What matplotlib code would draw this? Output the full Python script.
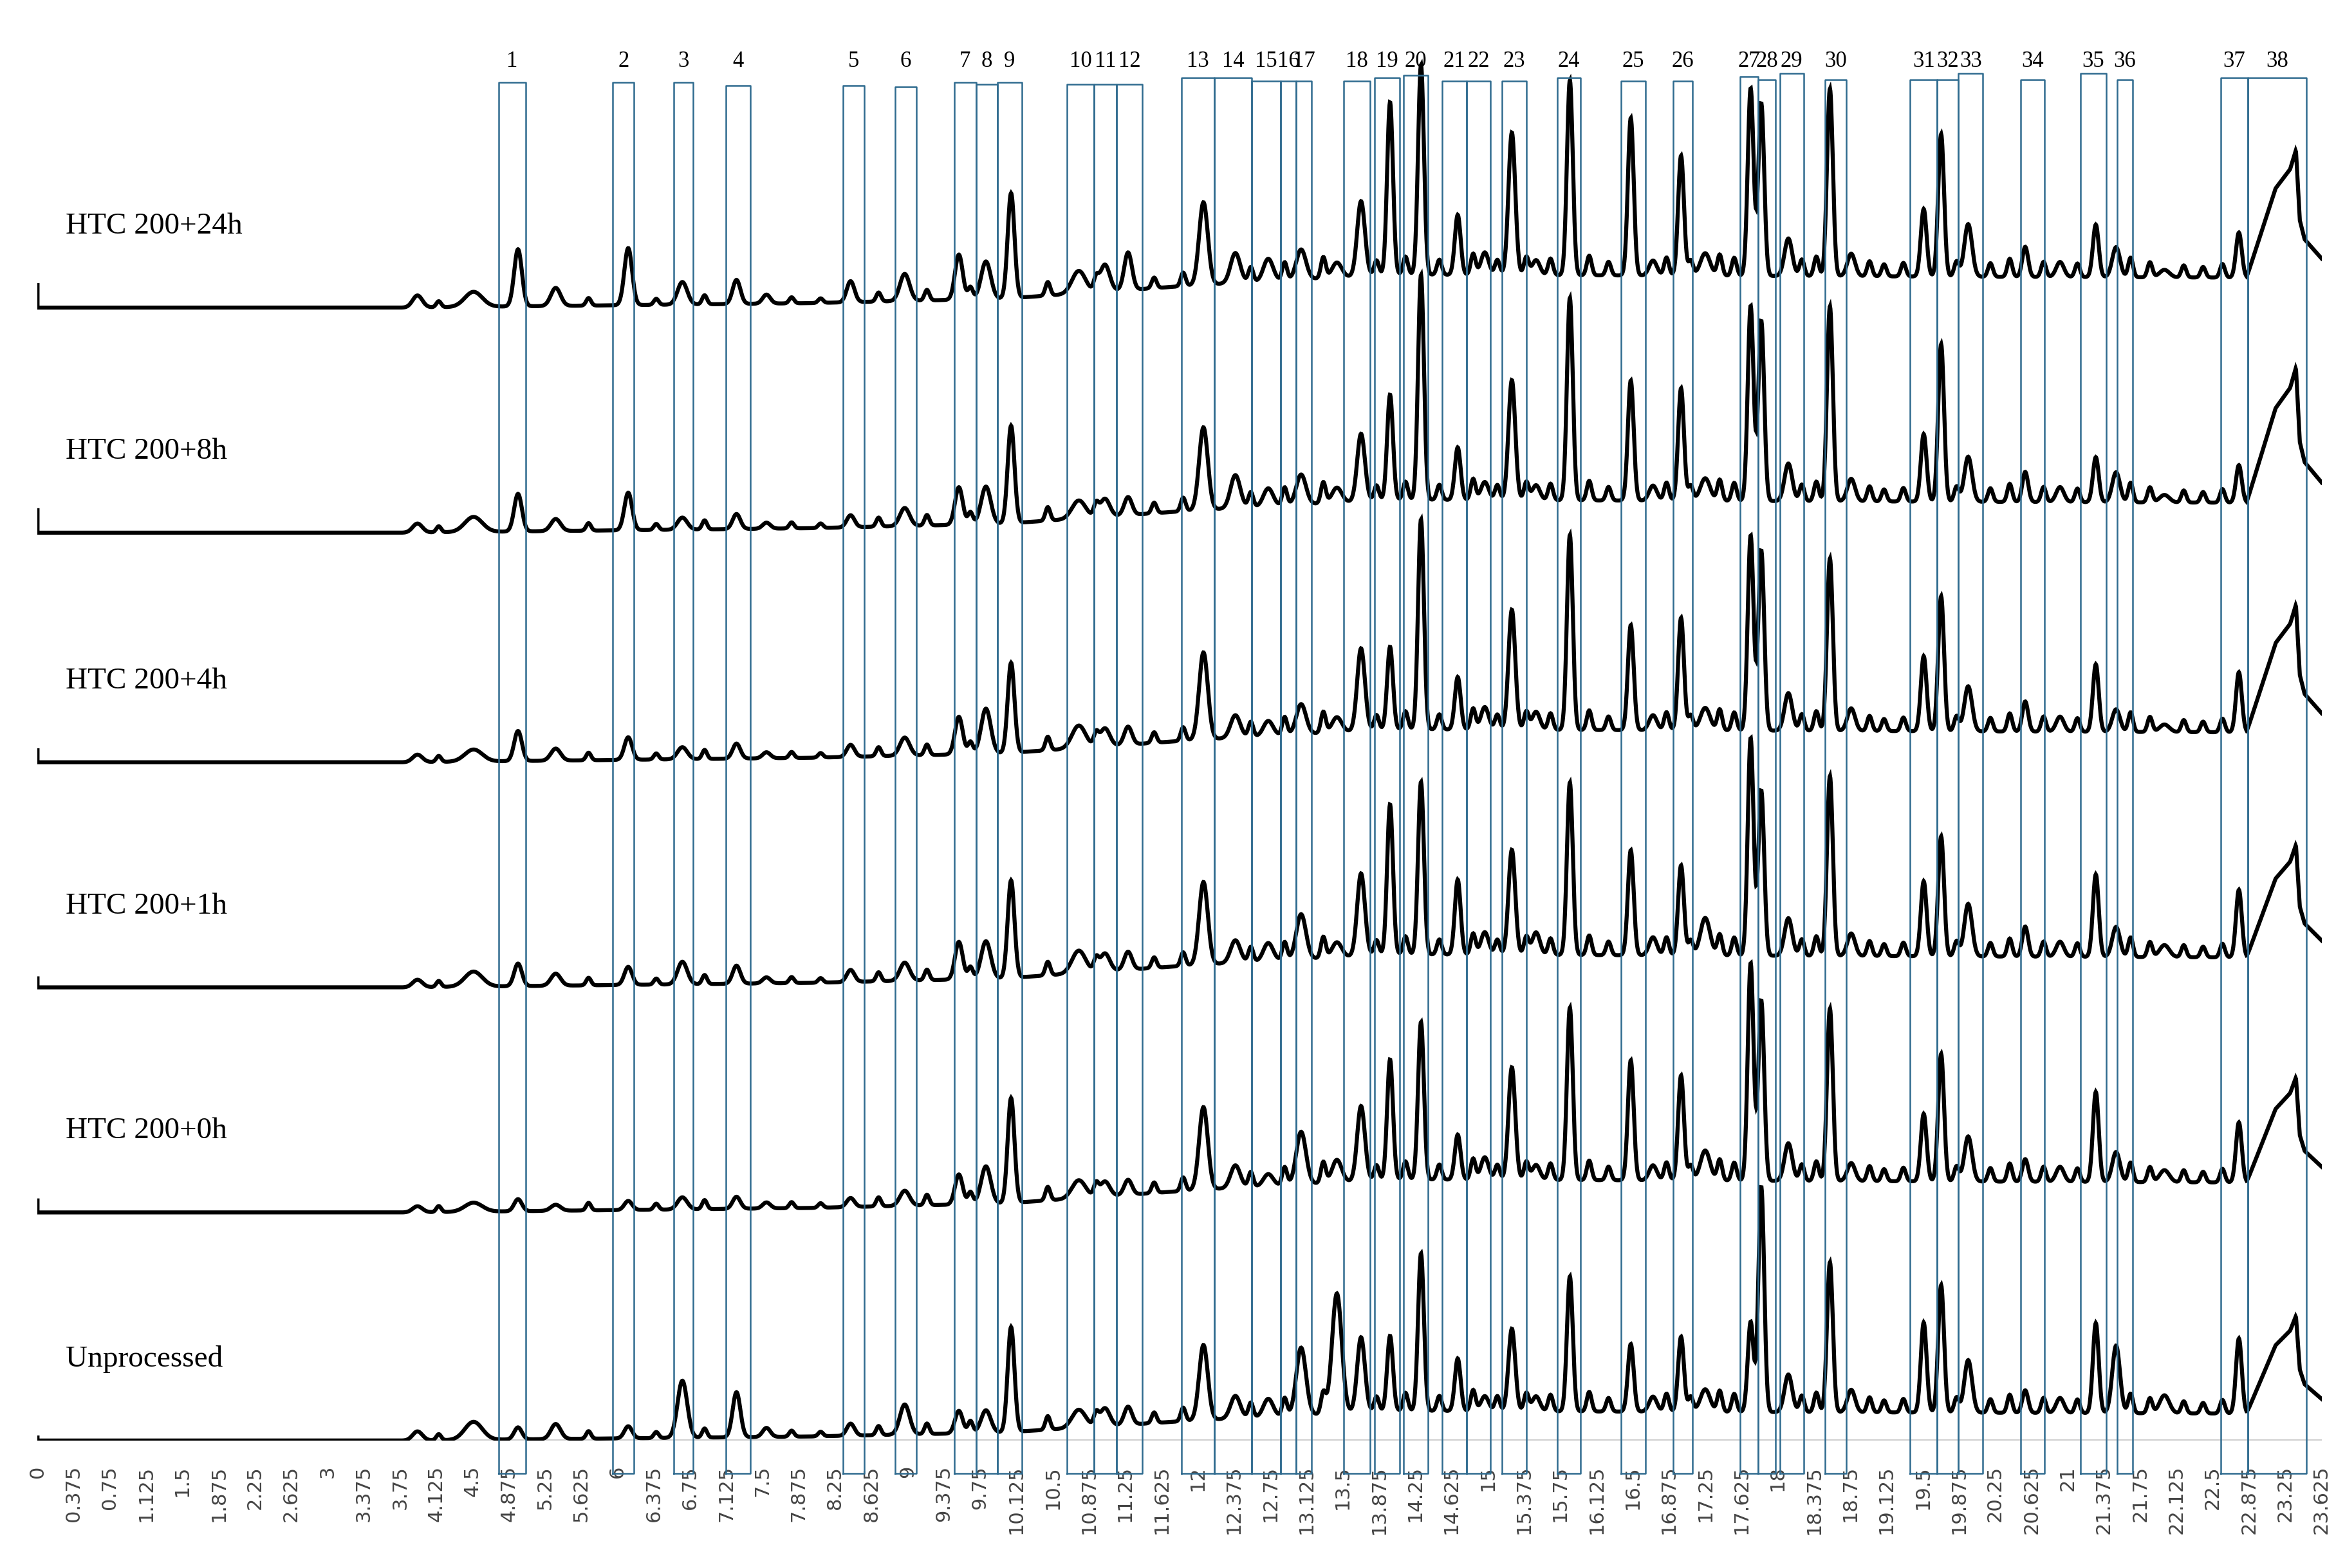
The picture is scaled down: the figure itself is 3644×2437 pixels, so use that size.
import numpy as np
import matplotlib.pyplot as plt

# retention times (min) of the peaks shared by all traces
peak_pos = [3.93, 4.51, 4.97, 5.36, 6.11, 6.67, 7.23, 7.54, 8.41, 8.97, 9.53, 9.81, 10.07,
            10.77, 11.04, 11.28, 12.06, 12.39, 12.73, 13.07, 13.44, 13.69, 13.99, 14.31,
            14.69, 14.97, 15.25, 15.50, 15.85, 16.48, 16.71, 17.00, 17.25, 17.72, 17.83,
            18.11, 18.54, 18.76, 19.51, 19.69, 19.97, 20.56, 20.92, 21.29, 21.50, 22.00, 22.77]
peak_w = [0.05, 0.09, 0.04, 0.05, 0.04, 0.05, 0.04, 0.04, 0.04, 0.05, 0.04, 0.05, 0.035,
          0.07, 0.05, 0.04, 0.045, 0.05, 0.05, 0.05, 0.05, 0.04, 0.03, 0.03,
          0.03, 0.04, 0.035, 0.04, 0.03, 0.03, 0.04, 0.03, 0.05, 0.03, 0.03,
          0.04, 0.03, 0.04, 0.03, 0.03, 0.04, 0.03, 0.04, 0.03, 0.04, 0.05, 0.03]

# small background peaks seen on every trace
minor_pos = [4.15, 5.70, 6.40, 6.90, 7.80, 8.10, 8.70, 9.20, 9.65, 10.45, 10.95, 11.55, 11.85,
             12.55, 12.90, 13.30, 13.85, 14.15, 14.50, 14.85, 15.10, 15.40, 15.65, 16.05, 16.25,
             16.85, 17.10, 17.40, 17.55, 18.25, 18.40, 18.95, 19.10, 19.30, 19.85, 20.20, 20.40,
             20.75, 21.10, 21.65, 21.85, 22.20, 22.40, 22.60]
minor_h = [4, 5, 4, 6, 4, 3, 6, 7, 8, 9, 8, 7, 9, 10, 12, 14, 10, 12, 10, 14, 10, 12, 11, 13, 9,
           12, 10, 14, 12, 11, 13, 10, 8, 9, 10, 9, 12, 10, 9, 13, 10, 8, 7, 9]

names = ["HTC 200+24h", "HTC 200+8h", "HTC 200+4h", "HTC 200+1h", "HTC 200+0h", "Unprocessed"]
offsets = [755, 605, 452, 302, 152, 0]
heights = {
    "HTC 200+24h": [8, 10, 38, 12, 38, 15, 16, 6, 14, 18, 30, 25, 70, 15, 18, 25, 55, 20, 15, 20, 10, 50, 115, 140,
                    40, 15, 95, 10, 130, 105, 10, 80, 15, 125, 115, 25, 125, 15, 45, 95, 35, 20, 10, 35, 20, 5, 30],
    "HTC 200+8h": [6, 10, 25, 8, 25, 8, 10, 4, 8, 12, 25, 25, 65, 12, 12, 12, 55, 22, 12, 20, 10, 45, 70, 150,
                   35, 12, 80, 10, 135, 80, 10, 75, 15, 130, 120, 25, 130, 15, 45, 105, 30, 20, 10, 30, 20, 5, 25],
    "HTC 200+4h": [5, 8, 20, 8, 15, 8, 10, 4, 8, 12, 25, 30, 60, 15, 12, 12, 58, 15, 10, 20, 10, 55, 55, 140,
                   35, 15, 80, 12, 130, 70, 10, 75, 15, 130, 120, 25, 115, 15, 50, 90, 30, 20, 10, 45, 15, 5, 40],
    "HTC 200+1h": [5, 10, 15, 8, 12, 15, 12, 4, 8, 12, 25, 25, 65, 15, 12, 12, 55, 15, 12, 30, 10, 55, 100, 115,
                   50, 15, 70, 15, 115, 70, 12, 60, 25, 145, 110, 25, 120, 15, 50, 80, 35, 20, 10, 55, 20, 8, 45],
    "HTC 200+0h": [4, 6, 8, 4, 6, 8, 8, 4, 6, 10, 20, 25, 70, 12, 10, 10, 55, 15, 8, 35, 15, 50, 80, 105,
                   30, 15, 75, 10, 115, 80, 10, 70, 20, 145, 120, 25, 115, 12, 45, 85, 30, 15, 10, 60, 20, 8, 40],
    "Unprocessed": [6, 12, 8, 10, 8, 38, 30, 6, 8, 20, 15, 15, 70, 12, 12, 12, 50, 15, 12, 45, 80, 50, 50, 105,
                    35, 10, 55, 10, 90, 45, 10, 50, 15, 60, 150, 25, 100, 15, 60, 85, 35, 15, 10, 60, 45, 12, 50],
}
apex_38 = [85, 90, 85, 75, 70, 65]
start_spike = [15, 15, 8, 6, 8, 2]

# slow baseline drift (time, level)
drift_t = [0, 3.8, 8.0, 10.0, 12.0, 14.0, 22.7, 23.625]
drift_v = [0, 0, 3, 6, 15, 22, 20, 20]

# tail ramp of peak 38 (time, fraction of apex)
ramp_t = [22.85, 23.0, 23.15, 23.3, 23.36, 23.40, 23.45, 23.625]
ramp_f = [0, 0.35, 0.7, 0.85, 1.0, 0.45, 0.3, 0.15]

# marked peak windows (min)
box_l = [4.77, 5.95, 6.58, 7.12, 8.33, 8.87, 9.48, 9.71, 9.93, 10.65, 10.93, 11.16, 11.83, 12.17,
         12.56, 12.86, 13.02, 13.51, 13.83, 14.13, 14.53, 14.78, 15.15, 15.72, 16.38, 16.92, 17.61,
         17.80, 18.02, 18.49, 19.37, 19.65, 19.87, 20.51, 21.13, 21.51, 22.58, 22.86]
box_r = [5.05, 6.17, 6.78, 7.37, 8.55, 9.09, 9.71, 9.93, 10.18, 10.93, 11.16, 11.43, 12.17, 12.56,
         12.86, 13.02, 13.18, 13.78, 14.09, 14.38, 14.78, 15.03, 15.40, 15.96, 16.63, 17.12, 17.80,
         17.98, 18.27, 18.71, 19.65, 19.87, 20.12, 20.76, 21.40, 21.67, 22.86, 23.47]
box_top = [905, 905, 905, 903, 903, 902, 905, 904, 905, 904, 904, 904, 908, 908, 906, 906, 906, 906,
           908, 910, 906, 906, 906, 908, 906, 906, 909, 907, 911, 907, 907, 907, 911, 907, 911, 907, 908, 908]
ticks = np.arange(0, 23.626, 0.375)

t = np.linspace(0, 23.625, 6000)
fig = plt.figure(figsize=(36.44, 24.37), dpi=100)
ax = fig.add_axes([0.016, 0.0813, 0.974, 0.9187])
ax.set_xlim(0, 23.625)
ax.set_ylim(0, 960)

for i, name in enumerate(names):
    y = np.interp(t, drift_t, drift_v)
    if name == "Unprocessed":
        y = y * 0.9
    for p, w, h in zip(peak_pos, peak_w, heights[name]):
        y = y + h * np.exp(-0.5 * ((t - p) / w) ** 2)
    for p, h in zip(minor_pos, minor_h):
        y = y + h * np.exp(-0.5 * ((t - p) / 0.025) ** 2)
    y = y + apex_38[i] * np.interp(t, ramp_t, ramp_f, left=0)
    y = offsets[i] + y
    xs = np.concatenate([[0, 0], t])
    ys = np.concatenate([[offsets[i] + start_spike[i], offsets[i]], y])
    ax.plot(xs, ys, color="black", lw=4.5, solid_joinstyle="miter")
    ax.text(0.29, offsets[i] + 45, name, fontsize=34, family="Liberation Serif", va="bottom")

for k, (l, r, top) in enumerate(zip(box_l, box_r, box_top)):
    ax.plot([l, l, r, r, l], [-22, top, top, -22, -22], color="#2f6b8f", lw=1.8, clip_on=False)
    ax.text((l + r) / 2, 912, str(k + 1), ha="center", va="bottom", fontsize=25,
            family="Liberation Serif")

ax.axhline(0, color="#d0d0d0", lw=3, zorder=0)
for s in ax.spines.values():
    s.set_visible(False)
ax.set_yticks([])
ax.set_xticks(ticks)
ax.set_xticklabels([f"{v:g}" for v in ticks], rotation=90, fontsize=22, color="#444444")
ax.tick_params(axis="x", length=0, pad=28)

fig.savefig("out.png", dpi=100)
